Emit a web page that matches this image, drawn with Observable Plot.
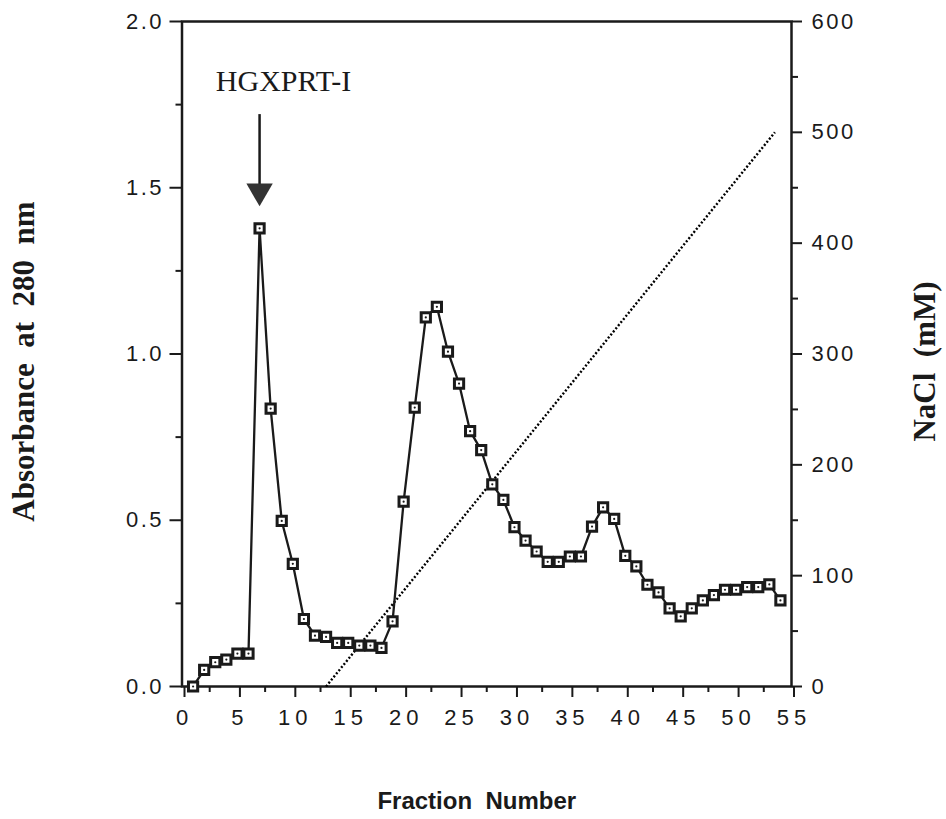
<!DOCTYPE html>
<html><head><meta charset="utf-8">
<script src="https://cdn.jsdelivr.net/npm/d3@7"></script>
<script src="https://cdn.jsdelivr.net/npm/@observablehq/plot@0.6"></script>
<style>
body{margin:0;background:#fff;}
#chart svg{background:#fff;}
g[aria-label="x-axis tick label"] text{letter-spacing:5px}
g[aria-label="y-axis tick label"] text{letter-spacing:2.5px}
g[aria-label="abs-title"] text{letter-spacing:0.5px; word-spacing:2px}
g[aria-label="nacl-title"] text{letter-spacing:0.5px; word-spacing:2px}
g[aria-label="x-title"] text{letter-spacing:2.5px; word-spacing:6px}
g[aria-label="peak-label"] text{letter-spacing:1.2px}
</style>
</head><body><div id="chart"></div>
<script>
// Fraction numbers and absorbance at 280 nm
const fractions = [1,2,3,4,5,6,7,8,9,10,11,12,13,14,15,16,17,18,19,20,21,22,23,24,25,26,27,
  28,29,30,31,32,33,34,35,36,37,38,39,40,41,42,43,44,45,46,47,48,49,50,51,52,53,54];
const absorbance = [0.00,0.05,0.073,0.081,0.099,0.099,1.378,0.836,0.498,0.369,0.203,0.153,0.149,0.131,
  0.131,0.123,0.123,0.116,0.196,0.556,0.839,1.110,1.142,1.007,0.911,0.768,0.711,0.608,0.561,0.479,
  0.439,0.406,0.375,0.375,0.391,0.391,0.481,0.539,0.504,0.393,0.361,0.306,0.283,0.235,0.211,0.235,
  0.259,0.275,0.291,0.291,0.299,0.299,0.307,0.259];
// NaCl gradient (mM)
const naclFractions = [13, 53.5];
const naclValues = [0, 500];
// Ticks
const xTicks = [0,5,10,15,20,25,30,35,40,45,50,55];
const xMinorTicks = [2.5,7.5,12.5,17.5,22.5,27.5,32.5,37.5,42.5,47.5,52.5];
const yTicks = [0,0.5,1.0,1.5,2.0];
const yMinorTicks = [0.25,0.75,1.25,1.75];
const naclTicks = [0,100,200,300,400,500,600];
const naclMinorTicks = [50,150,250,350,450,550];
// Annotation
const peakLabel = "HGXPRT-I";
const peakFraction = 7;
const arrowTop = 1.72;
const arrowHead = 1.49;
const labelY = 1.82;
// Titles
const xTitle = "Fraction  Number";
const yTitle = "Absorbance  at  280  nm";
const y2Title = "NaCl  (mM)";

const NACL_MAX = 600, ABS_MAX = 2;
const toAbs = v => v / NACL_MAX * ABS_MAX;
const toNacl = a => Math.round(a / ABS_MAX * NACL_MAX);

const absData = fractions.map((f, i) => ({fraction: f, abs: absorbance[i]}));
const naclData = naclFractions.map((f, i) => ({fraction: f, nacl: naclValues[i]}));

const triangleDown = {
  draw(context, size) {
    const y = Math.sqrt(size / (3 * Math.sqrt(3)));
    context.moveTo(0, 2 * y);
    context.lineTo(-Math.sqrt(3) * y, -y);
    context.lineTo(Math.sqrt(3) * y, -y);
    context.closePath();
  }
};

const ink = "#1a1a1a";
const sans = "Liberation Sans, Arial, sans-serif";
const serif = "Liberation Serif, Times New Roman, serif";

const chart = Plot.plot({
  width: 946,
  height: 819,
  marginLeft: 181.5,
  marginRight: 155,
  marginTop: 21,
  marginBottom: 133,
  style: {background: "#fff", color: ink},
  x: {domain: [0, 55]},
  y: {domain: [0, ABS_MAX]},
  marks: [
    Plot.frame({stroke: ink, strokeWidth: 2.5}),
    // x axis
    Plot.axisX(xTicks, {anchor: "bottom", tickSize: 11, tickPadding: 12, tickFormat: d => String(d), dx: 2.5,
      fontSize: 22, fontFamily: sans, stroke: ink, strokeWidth: 2, label: null}),
    Plot.axisX(xMinorTicks, {anchor: "bottom", tickSize: 6, tickFormat: () => "", stroke: ink, strokeWidth: 2, label: null}),
    // left y axis
    Plot.axisY(yTicks, {anchor: "left", tickSize: 12, tickPadding: 6, tickFormat: d => d.toFixed(1),
      fontSize: 22, fontFamily: sans, stroke: ink, strokeWidth: 2, label: null}),
    Plot.axisY(yMinorTicks, {anchor: "left", tickSize: 6, tickFormat: () => "", stroke: ink, strokeWidth: 2, label: null}),
    // right y axis (NaCl, mM)
    Plot.axisY(naclTicks.map(toAbs), {anchor: "right", tickSize: 10, tickPadding: 10, tickFormat: toNacl,
      fontSize: 22, fontFamily: sans, stroke: ink, strokeWidth: 2, label: null}),
    Plot.axisY(naclMinorTicks.map(toAbs), {anchor: "right", tickSize: 6, tickFormat: () => "", stroke: ink, strokeWidth: 2, label: null}),
    // NaCl gradient (dotted)
    Plot.line(naclData, {x: "fraction", y: d => toAbs(d.nacl), stroke: "#000", strokeWidth: 2.4,
      strokeDasharray: "2,2", strokeLinecap: "butt"}),
    // absorbance profile
    Plot.line(absData, {x: "fraction", y: "abs", stroke: ink, strokeWidth: 2.3}),
    Plot.dot(absData, {x: "fraction", y: "abs", symbol: "square", r: 5.2, fill: "#fff", stroke: ink, strokeWidth: 3}),
    Plot.dot(absData, {x: "fraction", y: "abs", r: 1.1, fill: ink, stroke: null}),
    // annotation
    Plot.ruleX([peakFraction], {y1: arrowTop, y2: arrowHead, stroke: ink, strokeWidth: 2.5}),
    Plot.dot([peakFraction], {x: d => d, y: arrowHead, symbol: triangleDown, r: 9.8, fill: "#333", stroke: null}),
    Plot.text([peakLabel], {x: peakFraction, y: labelY, dx: 24, text: d => d, fontSize: 30, fontFamily: serif,
      fill: ink, ariaLabel: "peak-label"}),
    // titles
    Plot.text([yTitle], {frameAnchor: "left", dx: -157.5, dy: 7.5, rotate: -90, textAnchor: "middle", lineAnchor: "middle",
      text: d => d, fontSize: 31, fontWeight: "bold", fontFamily: serif, fill: ink, ariaLabel: "abs-title"}),
    Plot.text([y2Title], {frameAnchor: "right", dx: 134, dy: 7.5, rotate: -90, textAnchor: "middle", lineAnchor: "middle",
      text: d => d, fontSize: 31, fontWeight: "bold", fontFamily: serif, fill: ink, ariaLabel: "nacl-title"}),
    Plot.text([xTitle], {frameAnchor: "bottom", dx: -10, dy: 115, textAnchor: "middle", lineAnchor: "middle",
      text: d => d, fontSize: 24, fontWeight: "bold", fontFamily: sans, fill: ink, ariaLabel: "x-title"})
  ]
});
document.getElementById("chart").appendChild(chart);
</script>
</body></html>
